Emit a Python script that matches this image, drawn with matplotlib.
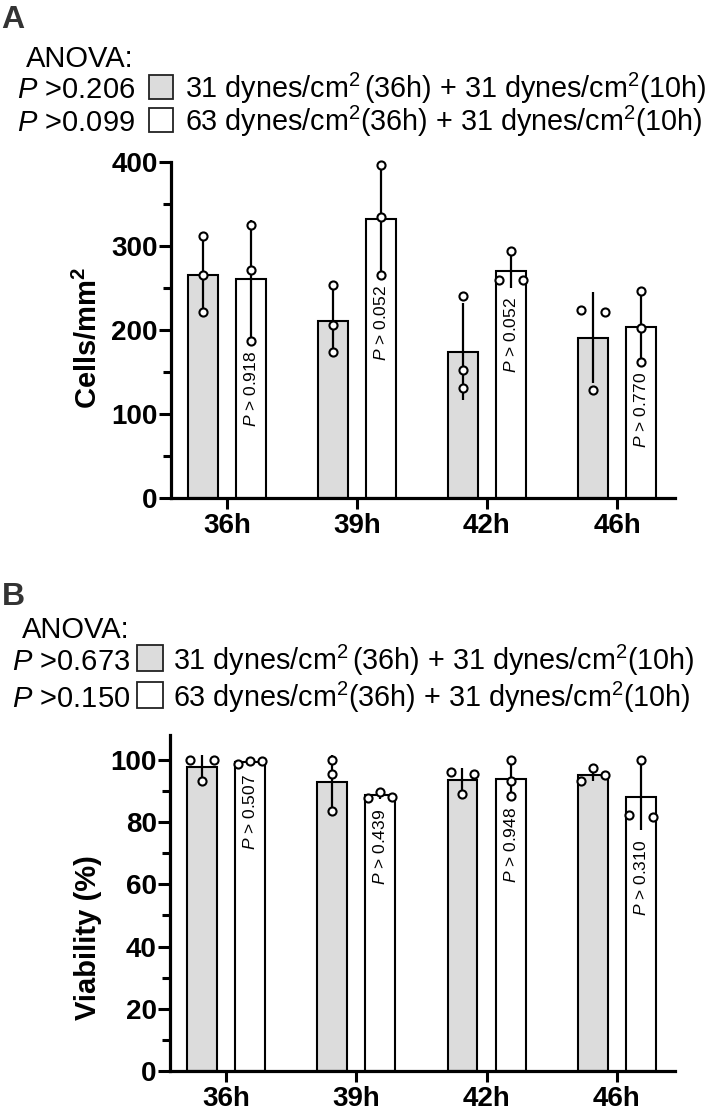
import numpy as np
import matplotlib
matplotlib.use('Agg')
import matplotlib.pyplot as plt
from matplotlib.patches import Rectangle
from matplotlib.ticker import MultipleLocator

plt.rcParams['font.family'] = 'Liberation Sans'
plt.rcParams['mathtext.fontset'] = 'custom'
plt.rcParams['mathtext.rm'] = 'Liberation Sans'
plt.rcParams['mathtext.it'] = 'Liberation Sans:italic'
plt.rcParams['mathtext.bf'] = 'Liberation Sans:bold'

# data (3 replicates per group)
times = ['36h', '39h', '42h', '46h']

cells_31 = [[312, 265, 221], [253, 206, 174], [240, 152, 131], [224, 221, 128]]
cells_63 = [[325, 271, 187], [397, 334, 265], [294, 259, 259], [246, 202, 162]]
cells_p = ['0.918', '0.052', '0.052', '0.770']
cells_anova = ['0.206', '0.099']

via_31 = [[100, 100, 93.3], [100, 95.4, 83.6], [96.0, 95.5, 89.0], [97.3, 95.2, 93.3]]
via_63 = [[98.7, 99.8, 99.8], [87.7, 89.8, 88.2], [100, 93.3, 88.5], [100, 81.6, 82.3]]
via_p = ['0.507', '0.439', '0.948', '0.310']
via_anova = ['0.673', '0.150']

legend_labels = [r'31 dynes/cm$^2\,$(36h) + 31 dynes/cm$^2$(10h)',
                 r'63 dynes/cm$^2$(36h) + 31 dynes/cm$^2$(10h)']

W, H = 714, 1117
fig = plt.figure(figsize=(W / 100, H / 100), dpi=100)

GRAY = '#dcdcdc'
bar_w = 0.23
offs = [-0.185, 0.185]


def fx(x):
    return x / W


def fy(y):
    return 1 - y / H


def swarm(vals, thr, step):
    vals = np.asarray(vals, dtype=float)
    order = np.argsort(vals, kind='stable')
    out = np.zeros(len(vals))
    clusters = []
    cur = [order[0]]
    for i in order[1:]:
        if vals[i] - vals[cur[-1]] < thr:
            cur.append(i)
        else:
            clusters.append(cur)
            cur = [i]
    clusters.append(cur)
    for c in clusters:
        if len(c) == 2:
            out[c[1]] = -step
            out[c[0]] = step
        elif len(c) == 3:
            out[c[0]] = -step
            out[c[1]] = step
            out[c[2]] = 0
    return out


def draw_panel(box, g31, g63, pvals, ymax, major, minor, ylabel, lab_y):
    ax = fig.add_axes(box)
    x = np.arange(len(times))
    ax.set_xlim(-0.43, 3.446)
    ax.set_ylim(0, ymax)
    # pixels per data unit, for the point swarm
    ppu = box[3] * H / ymax
    thr = 9 / ppu
    for s, (groups, fc) in enumerate(zip([g31, g63], [GRAY, 'white'])):
        means = np.array([np.mean(g) for g in groups])
        sds = np.array([np.std(g, ddof=1) for g in groups])
        xs = x + offs[s]
        ax.bar(xs, means, width=bar_w, color=fc, edgecolor='black', linewidth=1.5, zorder=2)
        ax.errorbar(xs, means, yerr=sds, fmt='none', ecolor='black', elinewidth=1.6,
                    capsize=0, zorder=3)
        for i, g in enumerate(groups):
            jit = swarm(g, thr, 0.092)
            ax.scatter(xs[i] + jit, g, s=34, facecolor='white', edgecolor='black',
                       linewidth=1.5, zorder=4, clip_on=False)
        if s == 1:
            for i, g in enumerate(groups):
                low = min(means[i] - sds[i], min(g))
                ax.annotate(f'$P$ > {pvals[i]}', xy=(xs[i], low), xytext=(0, -7),
                            textcoords='offset points', rotation=90, ha='center',
                            va='top', fontsize=12.5, zorder=5)
    ax.spines[['top', 'right']].set_visible(False)
    for sp in ['left', 'bottom']:
        ax.spines[sp].set_linewidth(2.3)
    ax.yaxis.set_major_locator(MultipleLocator(major))
    ax.yaxis.set_minor_locator(MultipleLocator(minor))
    ax.set_xticks(x, times, fontweight='bold')
    ax.tick_params(axis='y', which='major', length=8.5, width=2.2, labelsize=20, pad=1)
    ax.tick_params(axis='y', which='minor', length=5.5, width=2.2)
    ax.tick_params(axis='x', length=8, width=2.2, labelsize=20, pad=3)
    for t in ax.get_yticklabels():
        t.set_fontweight('bold')
    ax.set_ylabel(ylabel, fontsize=21, fontweight='bold')
    ax.yaxis.set_label_coords(-0.135, lab_y)
    return ax


def draw_header(letter, lx, ly, ax_x, ax_y, rows_y, px_, sq_x, sq_size, tx, anova):
    fig.text(fx(lx), fy(ly), letter, fontsize=23, fontweight='bold', color='#333333',
             va='baseline')
    fig.text(fx(ax_x), fy(ax_y), 'ANOVA:', fontsize=21, va='baseline')
    for r, (yb, fc) in enumerate(zip(rows_y, [GRAY, 'white'])):
        fig.text(fx(px_), fy(yb), f'$P$ >{anova[r]}', fontsize=21, va='baseline')
        sq = Rectangle((fx(sq_x), fy(yb + 1)), sq_size / W, sq_size / H,
                       transform=fig.transFigure, facecolor=fc, edgecolor='#222222',
                       linewidth=1.3)
        fig.patches.append(sq)
        fig.text(fx(tx), fy(yb), legend_labels[r], fontsize=20.7, va='baseline')


# panel A
draw_header('A', 1, 28, 26, 67, [98, 131], 17, 149, 24, 185, cells_anova)
draw_panel([fx(171), fy(498), (675 - 171) / W, (498 - 162) / H],
           cells_31, cells_63, cells_p, 400, 100, 50,
           r'Cells/mm$^{\mathbf{2}}$', 0.476)

# panel B
draw_header('B', 2, 605, 22, 638, [670, 707], 12, 137, 26, 173, via_anova)
draw_panel([fx(170), fy(1071), (675 - 170) / W, (1071 - 735) / H],
           via_31, via_63, via_p, 108, 20, 10,
           'Viability (%)', 0.396)

fig.savefig('out.png', dpi=100)
